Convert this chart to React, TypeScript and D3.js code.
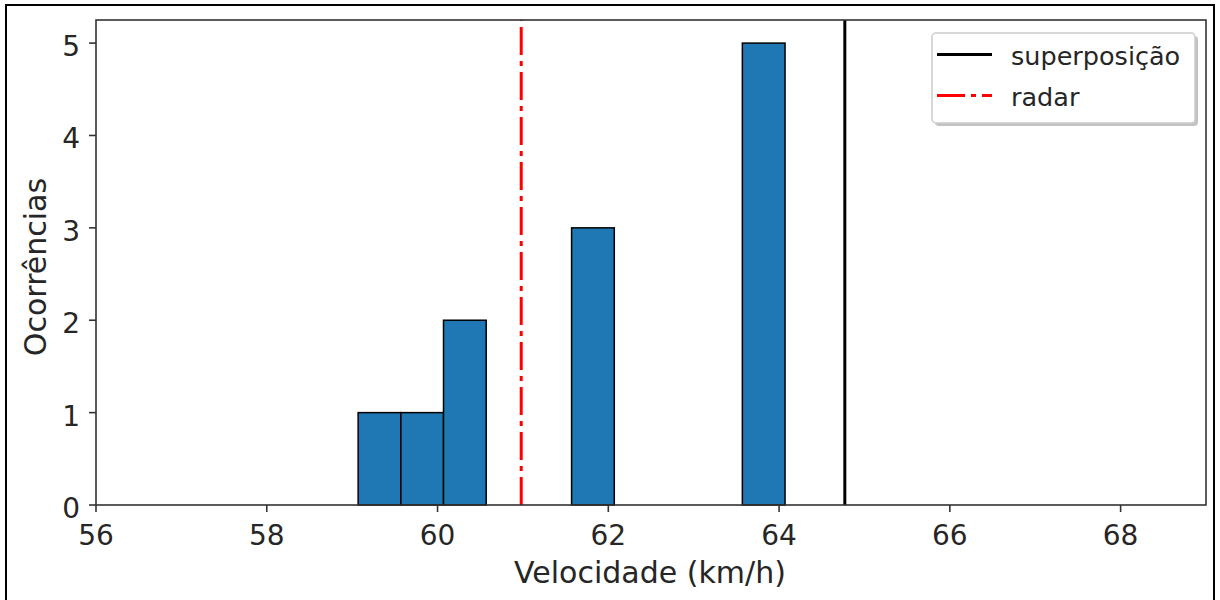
import React from "react";
import * as d3 from "d3";

const binEdges = [59.07, 59.57, 60.07, 60.57, 61.07, 61.57, 62.07, 62.57, 63.07, 63.57, 64.07];
const counts = [1, 1, 2, 0, 0, 3, 0, 0, 0, 5];
const xTicks = [56, 58, 60, 62, 64, 66, 68];
const yTicks = [0, 1, 2, 3, 4, 5];
const superposicao = 64.77;
const radar = 60.98;
const legendLabels = ["superposição", "radar"];

const W = 1220, H = 600;
const L = 96, R = 1206, T = 20, B = 505;
const FONT = "DejaVu Sans, sans-serif";

export default function App() {
  const x = d3.scaleLinear().domain([56, 69]).range([L, R]);
  const y = d3.scaleLinear().domain([0, 5.25]).range([B, T]);
  const bins = counts.map((c, i) => ({ x0: binEdges[i], x1: binEdges[i + 1], c }));
  const spine = "#333";
  return (
    <div style={{ position: "fixed", left: 0, top: 0 }}>
      <svg width={W} height={H} style={{ display: "block", background: "#fff" }}>
        <rect x={6} y={5} width={1208} height={620} fill="none" stroke="#000" strokeWidth={2} />
        {bins.map((b, i) => (
          <rect key={i} x={x(b.x0)} y={y(b.c)} width={x(b.x1) - x(b.x0)} height={y(0) - y(b.c)}
            fill="#1f77b4" stroke="#000" strokeWidth={1.5} />
        ))}
        <line x1={x(radar)} x2={x(radar)} y1={B} y2={T} stroke="#ff0000" strokeWidth={3}
          strokeDasharray="28 6 5 6" />
        <line x1={x(superposicao)} x2={x(superposicao)} y1={B} y2={T} stroke="#000" strokeWidth={3} />
        <rect x={L} y={T} width={R - L} height={B - T} fill="none" stroke={spine} strokeWidth={1.6} />
        {xTicks.map(t => (
          <g key={t}>
            <line x1={x(t)} x2={x(t)} y1={B} y2={B + 7} stroke={spine} strokeWidth={1.6} />
            <text x={x(t)} y={545} textAnchor="middle" fontFamily={FONT} fontSize={28} fill="#262626">{t}</text>
          </g>
        ))}
        {yTicks.map(t => (
          <g key={t}>
            <line x1={L - 7} x2={L} y1={y(t)} y2={y(t)} stroke={spine} strokeWidth={1.6} />
            <text x={80} y={y(t) + 13} textAnchor="end" fontFamily={FONT} fontSize={28} fill="#262626">{t}</text>
          </g>
        ))}
        <text x={650} y={583} textAnchor="middle" fontFamily={FONT} fontSize={30} fill="#262626">Velocidade (km/h)</text>
        <text transform={`translate(46,267) rotate(-90)`} textAnchor="middle" fontFamily={FONT} fontSize={30} fill="#262626">Ocorrências</text>
        <g>
          <rect x={935} y={36} width={263} height={90} rx={4} fill="#888" opacity={0.5} />
          <rect x={932} y={33} width={263} height={90} rx={4} fill="#fff" stroke="#ccc" strokeWidth={1.5} />
          <line x1={937} x2={992} y1={54.5} y2={54.5} stroke="#000" strokeWidth={3} />
          <line x1={937} x2={992} y1={95.5} y2={95.5} stroke="#ff0000" strokeWidth={3} strokeDasharray="28 6 5 6" />
          <text x={1011} y={65} fontFamily={FONT} fontSize={25.5} fill="#262626">{legendLabels[0]}</text>
          <text x={1011} y={106} fontFamily={FONT} fontSize={25.5} fill="#262626">{legendLabels[1]}</text>
        </g>
      </svg>
    </div>
  );
}
